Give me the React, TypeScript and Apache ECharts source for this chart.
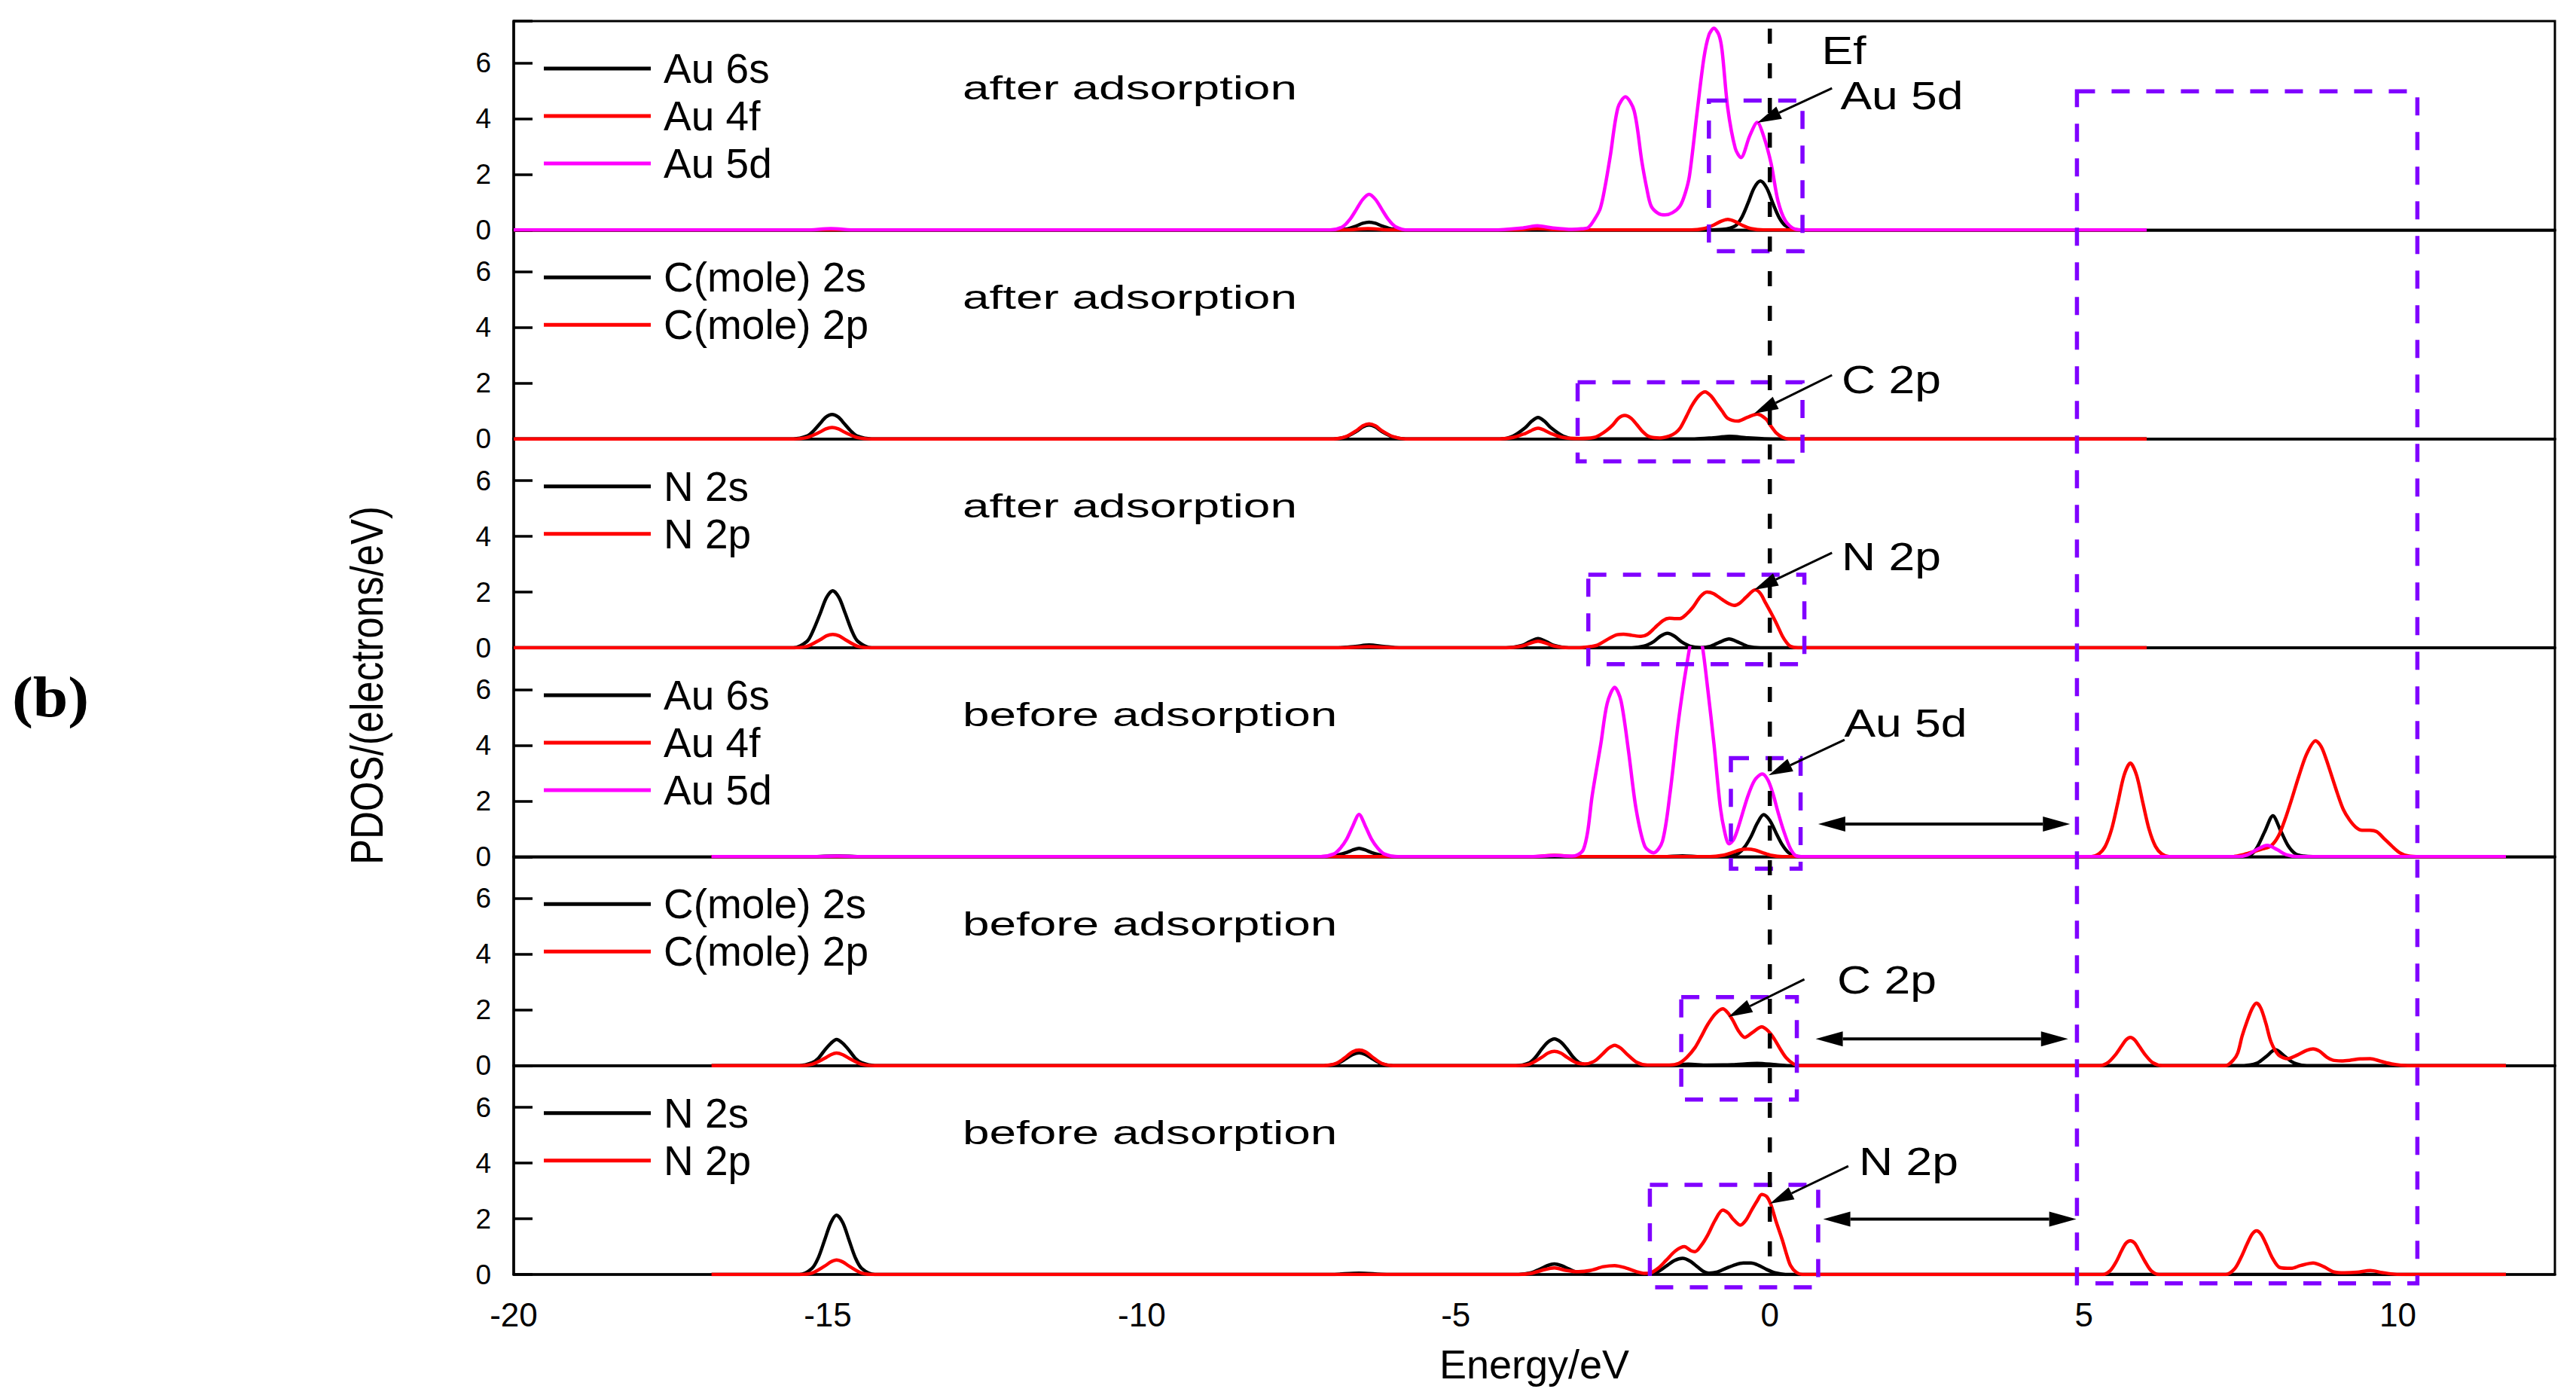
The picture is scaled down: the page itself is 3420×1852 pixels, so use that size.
import React, { useEffect, useRef } from "react";
import * as echarts from "echarts";

type Pt = [number, number];

// ---------------- DATA (energy in eV, PDOS in electrons/eV) ----------------
// Panel 1: Au, after adsorption
const au6sAfter: Pt[] = [[-20,0],[-6.95,0],[-6.75,0.03],[-6.58,0.15],[-6.48,0.24],[-6.38,0.28],[-6.28,0.24],[-6.18,0.15],[-6.0,0.03],[-5.8,0],[-4.1,0],[-3.7,0.03],[-3.3,0],[-1.0,0],[-0.75,0.02],[-0.55,0.15],[-0.45,0.44],[-0.35,0.95],[-0.25,1.51],[-0.15,1.76],[-0.05,1.51],[0.05,0.95],[0.15,0.44],[0.25,0.15],[0.4,0.02],[0.55,0],[6,0]];
const au4fAfter: Pt[] = [[-20,0],[-6.8,0],[-6.4,0.05],[-6.0,0],[-4.1,0],[-3.7,0.05],[-3.3,0],[-1.25,0],[-1.05,0.05],[-0.9,0.17],[-0.78,0.31],[-0.67,0.38],[-0.56,0.31],[-0.44,0.17],[-0.3,0.05],[-0.1,0],[6,0]];
const au5dAfter: Pt[] = [[-20,0],[-15.35,0],[-14.95,0.05],[-14.55,0],[-7.0,0],[-6.8,0.12],[-6.68,0.4],[-6.58,0.75],[-6.48,1.1],[-6.38,1.28],[-6.28,1.1],[-6.18,0.75],[-6.08,0.4],[-5.96,0.12],[-5.75,0],[-4.4,0],[-3.95,0.07],[-3.7,0.15],[-3.45,0.07],[-3.15,0.02],[-3.0,0.04],[-2.89,0.09],[-2.8,0.35],[-2.7,0.77],[-2.62,1.6],[-2.54,2.66],[-2.42,4.38],[-2.3,4.78],[-2.16,4.28],[-2.04,2.49],[-1.96,1.5],[-1.89,0.86],[-1.78,0.6],[-1.67,0.54],[-1.55,0.62],[-1.43,0.86],[-1.35,1.3],[-1.28,1.94],[-1.16,4.19],[-1.05,6.17],[-0.97,7.0],[-0.89,7.24],[-0.81,7.0],[-0.76,6.44],[-0.67,4.38],[-0.55,2.93],[-0.46,2.6],[-0.32,3.38],[-0.2,3.86],[-0.1,3.38],[0.02,2.39],[0.13,1.04],[0.25,0.32],[0.4,0.03],[0.55,0],[6,0]];

// Panel 2: C(mole), after adsorption
const c2sAfter: Pt[] = [[-20,0],[-15.55,0],[-15.33,0.1],[-15.23,0.28],[-15.13,0.53],[-15.03,0.78],[-14.93,0.88],[-14.83,0.78],[-14.73,0.53],[-14.63,0.28],[-14.53,0.1],[-14.3,0],[-6.95,0],[-6.75,0.07],[-6.58,0.27],[-6.48,0.43],[-6.38,0.5],[-6.28,0.43],[-6.18,0.27],[-6.0,0.07],[-5.8,0],[-4.3,0],[-4.09,0.1],[-3.89,0.41],[-3.79,0.64],[-3.69,0.77],[-3.59,0.64],[-3.49,0.41],[-3.29,0.1],[-3.1,0],[-1.2,0],[-0.9,0.04],[-0.64,0.09],[-0.35,0.04],[0.05,0],[6,0]];
const c2pAfter: Pt[] = [[-20,0],[-15.55,0],[-15.33,0.05],[-15.13,0.24],[-15.03,0.36],[-14.93,0.41],[-14.83,0.36],[-14.73,0.24],[-14.53,0.05],[-14.3,0],[-6.95,0],[-6.75,0.08],[-6.58,0.3],[-6.48,0.47],[-6.38,0.54],[-6.28,0.47],[-6.18,0.3],[-6.0,0.08],[-5.8,0],[-4.3,0],[-4.09,0.05],[-3.89,0.2],[-3.69,0.38],[-3.49,0.2],[-3.29,0.05],[-3.04,0.01],[-2.8,0.05],[-2.7,0.15],[-2.6,0.3],[-2.5,0.5],[-2.41,0.74],[-2.31,0.84],[-2.21,0.74],[-2.12,0.52],[-2.02,0.25],[-1.92,0.08],[-1.75,0.03],[-1.6,0.1],[-1.5,0.22],[-1.43,0.38],[-1.33,0.8],[-1.24,1.2],[-1.13,1.55],[-1.03,1.69],[-0.94,1.55],[-0.86,1.31],[-0.76,1.0],[-0.67,0.74],[-0.51,0.64],[-0.36,0.77],[-0.2,0.89],[-0.06,0.71],[0.02,0.45],[0.1,0.22],[0.2,0.06],[0.3,0],[6,0]];

// Panel 3: N, after adsorption
const n2sAfter: Pt[] = [[-20,0],[-15.55,0],[-15.33,0.23],[-15.23,0.63],[-15.12,1.23],[-15.02,1.8],[-14.92,2.05],[-14.82,1.8],[-14.72,1.23],[-14.62,0.63],[-14.52,0.23],[-14.3,0],[-6.9,0],[-6.6,0.05],[-6.38,0.1],[-6.15,0.05],[-5.9,0],[-4.2,0],[-3.95,0.08],[-3.82,0.22],[-3.69,0.33],[-3.56,0.22],[-3.43,0.08],[-3.2,0],[-2.2,0],[-2.0,0.06],[-1.85,0.22],[-1.74,0.42],[-1.63,0.52],[-1.52,0.42],[-1.41,0.22],[-1.27,0.06],[-1.1,0.01],[-0.95,0.05],[-0.8,0.2],[-0.65,0.32],[-0.5,0.2],[-0.35,0.05],[-0.15,0],[6,0]];
const n2pAfter: Pt[] = [[-20,0],[-15.55,0],[-15.33,0.05],[-15.12,0.29],[-15.02,0.43],[-14.92,0.48],[-14.82,0.43],[-14.72,0.29],[-14.52,0.05],[-14.3,0],[-6.8,0],[-6.38,0.04],[-5.95,0],[-4.2,0],[-3.95,0.06],[-3.82,0.16],[-3.69,0.24],[-3.56,0.16],[-3.43,0.06],[-3.2,0],[-2.99,0.01],[-2.85,0.05],[-2.75,0.09],[-2.54,0.36],[-2.43,0.47],[-2.33,0.49],[-2.2,0.45],[-2.05,0.41],[-1.95,0.48],[-1.83,0.72],[-1.7,0.98],[-1.6,1.06],[-1.5,1.05],[-1.43,1.05],[-1.33,1.2],[-1.23,1.44],[-1.1,1.85],[-1.0,2.0],[-0.9,1.95],[-0.75,1.72],[-0.65,1.58],[-0.57,1.52],[-0.48,1.6],[-0.38,1.81],[-0.23,2.08],[-0.15,1.95],[-0.07,1.62],[0.02,1.25],[0.1,0.9],[0.2,0.42],[0.27,0.18],[0.33,0.05],[0.45,0],[6,0]];

// Panel 4: Au, before adsorption
const au6sBefore: Pt[] = [[-16.85,0],[-15.25,0],[-14.85,0.03],[-14.45,0],[-7.15,0],[-6.92,0.04],[-6.74,0.15],[-6.64,0.24],[-6.54,0.3],[-6.44,0.24],[-6.34,0.15],[-6.16,0.04],[-5.95,0],[-1.7,0],[-1.39,0.03],[-1.1,0],[-0.75,0],[-0.6,0.04],[-0.5,0.12],[-0.4,0.35],[-0.3,0.72],[-0.2,1.2],[-0.1,1.51],[0.0,1.3],[0.1,0.85],[0.2,0.42],[0.3,0.14],[0.4,0.03],[0.5,0],[7.5,0],[7.65,0.06],[7.75,0.3],[7.88,0.9],[8.01,1.47],[8.13,0.95],[8.25,0.4],[8.37,0.1],[8.5,0.02],[8.65,0],[11.72,0]];
const au4fBefore: Pt[] = [[-16.85,0],[-3.8,0],[-3.43,0.05],[-3.05,0],[-0.95,0],[-0.75,0.05],[-0.6,0.15],[-0.48,0.24],[-0.36,0.27],[-0.24,0.24],[-0.12,0.15],[0.02,0.05],[0.2,0],[5.12,0],[5.24,0.1],[5.34,0.37],[5.44,0.97],[5.54,1.93],[5.64,2.92],[5.74,3.36],[5.84,2.92],[5.94,1.93],[6.04,0.97],[6.14,0.37],[6.24,0.1],[6.36,0],[7.39,0.01],[7.55,0.08],[7.72,0.19],[7.85,0.28],[7.98,0.39],[8.1,0.75],[8.2,1.32],[8.3,2.0],[8.42,2.87],[8.55,3.7],[8.69,4.16],[8.78,3.95],[8.86,3.49],[9.04,2.25],[9.13,1.7],[9.23,1.32],[9.33,1.06],[9.43,0.95],[9.55,0.95],[9.66,0.9],[9.78,0.65],[9.9,0.39],[10.03,0.14],[10.16,0.03],[10.35,0],[11.72,0]];
const au5dBefore: Pt[] = [[-16.85,0],[-15.25,0],[-14.85,0.02],[-14.45,0],[-7.15,0],[-6.94,0.1],[-6.84,0.3],[-6.74,0.62],[-6.64,1.1],[-6.54,1.52],[-6.44,1.1],[-6.34,0.62],[-6.24,0.3],[-6.14,0.1],[-5.92,0],[-3.8,0],[-3.43,0.04],[-3.15,0.02],[-3.05,0.08],[-2.97,0.25],[-2.9,0.9],[-2.83,2.17],[-2.69,4.06],[-2.59,5.5],[-2.47,6.08],[-2.37,5.6],[-2.25,3.79],[-2.13,1.72],[-1.99,0.37],[-1.85,0.14],[-1.71,0.55],[-1.59,2.26],[-1.47,4.6],[-1.37,6.23],[-1.27,7.6],[-1.18,8.8],[-1.07,7.5],[-0.99,6.05],[-0.89,4.06],[-0.79,1.81],[-0.72,0.9],[-0.65,0.46],[-0.58,0.6],[-0.51,1.0],[-0.35,2.17],[-0.24,2.75],[-0.12,2.97],[-0.03,2.75],[0.05,2.26],[0.13,1.6],[0.21,1.0],[0.33,0.28],[0.43,0.02],[0.55,0],[7.45,0],[7.6,0.06],[7.75,0.25],[7.92,0.41],[8.08,0.25],[8.22,0.07],[8.4,0],[11.72,0]];

// Panel 5: C(mole), before adsorption
const c2sBefore: Pt[] = [[-16.85,0],[-15.45,0],[-15.25,0.1],[-15.15,0.26],[-15.05,0.55],[-14.95,0.8],[-14.86,0.94],[-14.76,0.8],[-14.66,0.55],[-14.56,0.26],[-14.46,0.1],[-14.25,0],[-7.1,0],[-6.9,0.06],[-6.74,0.26],[-6.64,0.4],[-6.54,0.46],[-6.44,0.4],[-6.34,0.26],[-6.18,0.06],[-6.0,0],[-4.05,0],[-3.83,0.1],[-3.73,0.3],[-3.63,0.6],[-3.53,0.85],[-3.43,0.96],[-3.33,0.85],[-3.23,0.6],[-3.13,0.3],[-3.03,0.1],[-2.8,0],[-1.6,0],[-1.3,0.05],[-1.0,0.02],[-0.6,0.03],[-0.2,0.08],[0.1,0.03],[0.3,0],[7.55,0],[7.75,0.08],[7.9,0.32],[8.05,0.57],[8.2,0.33],[8.35,0.09],[8.55,0],[11.72,0]];
const c2pBefore: Pt[] = [[-16.85,0],[-15.45,0],[-15.25,0.05],[-15.05,0.26],[-14.95,0.39],[-14.86,0.45],[-14.76,0.39],[-14.66,0.26],[-14.46,0.05],[-14.25,0],[-7.1,0],[-6.9,0.08],[-6.74,0.33],[-6.64,0.5],[-6.54,0.56],[-6.44,0.5],[-6.34,0.33],[-6.18,0.08],[-6.0,0],[-4.05,0],[-3.83,0.05],[-3.63,0.3],[-3.53,0.45],[-3.43,0.51],[-3.33,0.45],[-3.23,0.3],[-3.08,0.1],[-2.95,0.06],[-2.8,0.15],[-2.67,0.4],[-2.57,0.62],[-2.47,0.73],[-2.37,0.62],[-2.27,0.4],[-2.12,0.12],[-1.95,0.02],[-1.6,0.02],[-1.45,0.08],[-1.32,0.3],[-1.19,0.65],[-1.09,1.05],[-0.99,1.47],[-0.87,1.85],[-0.75,2.04],[-0.67,1.9],[-0.59,1.63],[-0.5,1.25],[-0.4,1.01],[-0.27,1.2],[-0.13,1.39],[-0.03,1.25],[0.07,0.96],[0.17,0.58],[0.26,0.28],[0.37,0.07],[0.47,0],[5.25,0],[5.38,0.1],[5.5,0.38],[5.6,0.7],[5.67,0.92],[5.74,1.01],[5.81,0.92],[5.88,0.7],[5.98,0.38],[6.1,0.1],[6.25,0],[7.26,0],[7.38,0.2],[7.45,0.45],[7.52,1.06],[7.6,1.6],[7.68,2.05],[7.75,2.24],[7.82,2.05],[7.9,1.5],[7.98,0.85],[8.1,0.38],[8.25,0.25],[8.4,0.38],[8.55,0.55],[8.65,0.6],[8.75,0.52],[8.87,0.3],[8.97,0.19],[9.1,0.17],[9.23,0.19],[9.4,0.24],[9.56,0.25],[9.72,0.16],[9.9,0.06],[10.16,0],[11.72,0]];

// Panel 6: N, before adsorption
const n2sBefore: Pt[] = [[-16.85,0],[-15.45,0],[-15.25,0.22],[-15.15,0.6],[-15.05,1.23],[-14.95,1.86],[-14.86,2.13],[-14.76,1.86],[-14.66,1.23],[-14.56,0.6],[-14.46,0.22],[-14.25,0],[-7.0,0],[-6.54,0.05],[-6.1,0],[-4.0,0],[-3.8,0.06],[-3.65,0.2],[-3.54,0.32],[-3.43,0.38],[-3.32,0.32],[-3.2,0.2],[-3.05,0.06],[-2.85,0],[-2.0,0],[-1.8,0.08],[-1.65,0.3],[-1.52,0.5],[-1.39,0.58],[-1.27,0.48],[-1.15,0.27],[-1.05,0.1],[-0.97,0.05],[-0.85,0.08],[-0.7,0.22],[-0.55,0.35],[-0.42,0.41],[-0.3,0.41],[-0.18,0.33],[-0.05,0.18],[0.08,0.06],[0.25,0],[11.72,0]];
const n2pBefore: Pt[] = [[-16.85,0],[-15.45,0],[-15.25,0.05],[-15.05,0.3],[-14.95,0.45],[-14.86,0.52],[-14.76,0.45],[-14.66,0.3],[-14.46,0.05],[-14.25,0],[-4.0,0],[-3.8,0.04],[-3.63,0.15],[-3.43,0.24],[-3.25,0.15],[-3.05,0.1],[-2.85,0.15],[-2.65,0.28],[-2.47,0.32],[-2.3,0.24],[-2.12,0.1],[-2.0,0.04],[-1.91,0.05],[-1.78,0.22],[-1.65,0.51],[-1.5,0.85],[-1.36,1.0],[-1.26,0.86],[-1.19,0.82],[-1.09,1.05],[-0.99,1.41],[-0.87,1.95],[-0.75,2.31],[-0.66,2.2],[-0.59,2.0],[-0.47,1.77],[-0.38,1.95],[-0.29,2.31],[-0.2,2.65],[-0.13,2.87],[-0.05,2.8],[0.02,2.49],[0.1,1.9],[0.2,1.23],[0.27,0.7],[0.33,0.32],[0.42,0.08],[0.52,0],[5.3,0],[5.42,0.14],[5.52,0.48],[5.6,0.85],[5.67,1.12],[5.74,1.21],[5.81,1.12],[5.88,0.85],[5.97,0.48],[6.07,0.14],[6.2,0],[7.26,0],[7.4,0.2],[7.5,0.6],[7.6,1.1],[7.68,1.45],[7.75,1.57],[7.82,1.45],[7.9,1.1],[8.0,0.6],[8.12,0.25],[8.3,0.22],[8.45,0.32],[8.65,0.41],[8.82,0.28],[8.97,0.1],[9.15,0.06],[9.35,0.08],[9.56,0.14],[9.75,0.07],[9.95,0.01],[10.16,0],[11.72,0]];

const panelTitles = ["after adsorption", "after adsorption", "after adsorption", "before adsorption", "before adsorption", "before adsorption"];

// Annotation geometry in data units: [panel, x1, yTop, x2, yBottom]
const zoomBoxes: number[][] = [
  [0, -0.97, 4.65, 0.52, -0.76],
  [1, -3.06, 2.03, 0.52, -0.81],
  [2, -2.89, 2.62, 0.55, -0.59],
  [3, -0.62, 3.54, 0.49, -0.43],
  [4, -1.41, 2.46, 0.43, -1.22],
  [5, -1.91, 3.22, 0.77, -0.46],
];
// band box: x1, x2, top (panel 0), bottom (panel 5)
const bandBox = { x1: 4.89, x2: 10.31, top: 4.98, bottom: -0.32 };
// Fermi level line: energy, top value in panel 0, bottom value in panel 5
const fermi = { x: 0, top: 7.23, bottom: 0 };
// pointer arrows: [panel, xFrom, yFrom, xTo, yTo]
const pointerArrows: number[][] = [
  [0, 0.99, 5.09, -0.2, 3.85],
  [1, 0.99, 2.29, -0.25, 0.91],
  [2, 0.99, 3.41, -0.25, 2.08],
  [3, 1.19, 4.2, -0.02, 2.92],
  [4, 0.55, 3.1, -0.66, 1.75],
  [5, 1.25, 3.89, 0.0, 2.54],
];
// band-gap arrows: [panel, x1, x2, y]
const gapArrows: number[][] = [
  [3, 0.77, 4.78, 1.17],
  [4, 0.73, 4.75, 0.96],
  [5, 0.85, 4.88, 1.99],
];

// ---------------- STYLE / LAYOUT ----------------
const BLACK = "#000000";
const RED = "#ff0000";
const MAGENTA = "#ff00ff";
const PURPLE = "#8000ff";
const FONT = "Liberation Sans";

const X_MIN = -20, X_MAX = 12.5, X_INTERVAL = 5;
const Y_MIN = 0, Y_MAX = 7.5, Y_INTERVAL = 2;

const GRID_LEFT = 682;
const GRID_WIDTH = 2710;
const GRID_TOP = 28;
const PANEL_H = 1664 / 6;

const panels = [
  { title: panelTitles[0], series: [["Au 6s", BLACK, au6sAfter], ["Au 4f", RED, au4fAfter], ["Au 5d", MAGENTA, au5dAfter]] },
  { title: panelTitles[1], series: [["C(mole) 2s", BLACK, c2sAfter], ["C(mole) 2p", RED, c2pAfter]] },
  { title: panelTitles[2], series: [["N 2s", BLACK, n2sAfter], ["N 2p", RED, n2pAfter]] },
  { title: panelTitles[3], series: [["Au 6s", BLACK, au6sBefore], ["Au 4f", RED, au4fBefore], ["Au 5d", MAGENTA, au5dBefore]] },
  { title: panelTitles[4], series: [["C(mole) 2s", BLACK, c2sBefore], ["C(mole) 2p", RED, c2pBefore]] },
  { title: panelTitles[5], series: [["N 2s", BLACK, n2sBefore], ["N 2p", RED, n2pBefore]] },
] as { title: string; series: [string, string, Pt[]][] }[];

const N = panels.length;
const toGlobal = (panel: number, v: number) => v + Y_MAX * (N - 1 - panel);

// free texts (pixel layout)
const annotationLabels: [string, number, number][] = [
  ["Ef", 2448, 67],
  ["Au 5d", 2525, 127],
  ["C 2p", 2511, 504],
  ["N 2p", 2511, 739],
  ["Au 5d", 2530, 960],
  ["C 2p", 2505, 1301],
  ["N 2p", 2534, 1542],
];

function arrowHead(tip: number[], from: number[], len: number, half: number) {
  const dx = tip[0] - from[0];
  const dy = tip[1] - from[1];
  const d = Math.sqrt(dx * dx + dy * dy) || 1;
  const ux = dx / d, uy = dy / d;
  const bx = tip[0] - ux * len, by = tip[1] - uy * len;
  const nx = -uy, ny = ux;
  return {
    base: [bx, by],
    points: [[tip[0], tip[1]], [bx + nx * half, by + ny * half], [bx - nx * half, by - ny * half]],
  };
}

function buildOption() {
  const grids: any[] = panels.map((_, i) => ({
    left: GRID_LEFT, width: GRID_WIDTH, top: GRID_TOP + i * PANEL_H, height: PANEL_H,
    show: true, borderColor: BLACK, borderWidth: 3, backgroundColor: "transparent",
    containLabel: false, outerBoundsMode: "none",
  }));
  grids.push({ left: GRID_LEFT, width: GRID_WIDTH, top: GRID_TOP, height: PANEL_H * N, show: false, containLabel: false, outerBoundsMode: "none" });

  const xAxes: any[] = panels.map((_, i) => ({
    type: "value", gridIndex: i, min: X_MIN, max: X_MAX, interval: X_INTERVAL,
    axisLine: { show: true, onZero: false, lineStyle: { color: BLACK, width: 3.5 } },
    axisTick: { show: false },
    splitLine: { show: false },
    axisLabel: {
      show: i === N - 1, fontSize: 44, color: BLACK, fontFamily: FONT, margin: 31,
      formatter: (v: number) => (Math.abs(v % X_INTERVAL) < 1e-9 ? String(v) : ""),
    },
    name: i === N - 1 ? "Energy/eV" : "",
    nameLocation: "middle", nameGap: 92,
    nameTextStyle: { fontSize: 54, color: BLACK, fontFamily: FONT },
  }));
  xAxes.push({ type: "value", gridIndex: N, min: X_MIN, max: X_MAX, show: false });

  const yAxes: any[] = panels.map((_, i) => ({
    type: "value", gridIndex: i, min: Y_MIN, max: Y_MAX, interval: Y_INTERVAL,
    axisLine: { show: true, onZero: false, lineStyle: { color: BLACK, width: 3.5 } },
    axisTick: { show: true, inside: true, length: 25, lineStyle: { color: BLACK, width: 3.5 } },
    splitLine: { show: false },
    axisLabel: {
      fontSize: 37, color: BLACK, fontFamily: FONT, margin: 30,
      formatter: (v: number) => (Math.abs(v % Y_INTERVAL) < 1e-9 ? String(v) : ""),
    },
  }));
  yAxes.push({ type: "value", gridIndex: N, min: 0, max: Y_MAX * N, show: false });

  const lineSeries: any[] = [];
  panels.forEach((p, i) => {
    p.series.forEach(([name, color, data]) => {
      lineSeries.push({
        type: "line", name, xAxisIndex: i, yAxisIndex: i, data,
        smooth: 0.3, symbol: "none", showSymbol: false, clip: true, silent: true,
        color, itemStyle: { color }, lineStyle: { color, width: 4.5 }, z: 3,
      });
    });
  });

  const boxData = zoomBoxes.map(([p, x1, yt, x2, yb]) => [x1, toGlobal(p, yt), x2, toGlobal(p, yb)]);
  boxData.push([bandBox.x1, toGlobal(0, bandBox.top), bandBox.x2, toGlobal(N - 1, bandBox.bottom)]);

  const boxSeries = {
    type: "custom", name: "boxes", xAxisIndex: N, yAxisIndex: N, silent: true, z: 10,
    encode: { x: [0, 2], y: [1, 3] },
    data: boxData,
    renderItem: (params: any, api: any) => {
      const a = api.coord([api.value(0), api.value(1)]);
      const b = api.coord([api.value(2), api.value(3)]);
      return {
        type: "rect",
        shape: { x: a[0], y: a[1], width: b[0] - a[0], height: b[1] - a[1] },
        style: { fill: "none", stroke: PURPLE, lineWidth: 5.5, lineDash: [24, 22] },
      };
    },
  };

  const fermiSeries = {
    type: "custom", name: "Ef", xAxisIndex: N, yAxisIndex: N, silent: true, z: 11,
    encode: { x: [0, 2], y: [1, 3] },
    data: [[fermi.x, toGlobal(0, fermi.top), fermi.x, toGlobal(N - 1, fermi.bottom)]],
    renderItem: (params: any, api: any) => {
      const a = api.coord([api.value(0), api.value(1)]);
      const b = api.coord([api.value(2), api.value(3)]);
      return {
        type: "line",
        shape: { x1: a[0], y1: a[1], x2: b[0], y2: b[1] },
        style: { stroke: BLACK, lineWidth: 5.5, lineDash: [20, 26] },
      };
    },
  };

  const pointerSeries = {
    type: "custom", name: "pointers", xAxisIndex: N, yAxisIndex: N, silent: true, z: 12,
    encode: { x: [0, 2], y: [1, 3] },
    data: pointerArrows.map(([p, x1, y1, x2, y2]) => [x1, toGlobal(p, y1), x2, toGlobal(p, y2)]),
    renderItem: (params: any, api: any) => {
      const a = api.coord([api.value(0), api.value(1)]);
      const b = api.coord([api.value(2), api.value(3)]);
      const h = arrowHead(b, a, 32, 9);
      return {
        type: "group",
        children: [
          { type: "line", shape: { x1: a[0], y1: a[1], x2: h.base[0], y2: h.base[1] }, style: { stroke: BLACK, lineWidth: 3 } },
          { type: "polygon", shape: { points: h.points }, style: { fill: BLACK } },
        ],
      };
    },
  };

  const gapSeries = {
    type: "custom", name: "gaps", xAxisIndex: N, yAxisIndex: N, silent: true, z: 12,
    encode: { x: [0, 1], y: [2, 2] },
    data: gapArrows.map(([p, x1, x2, y]) => [x1, x2, toGlobal(p, y)]),
    renderItem: (params: any, api: any) => {
      const a = api.coord([api.value(0), api.value(2)]);
      const b = api.coord([api.value(1), api.value(2)]);
      const h1 = arrowHead(b, a, 36, 10);
      const h2 = arrowHead(a, b, 36, 10);
      return {
        type: "group",
        children: [
          { type: "line", shape: { x1: h2.base[0], y1: h2.base[1], x2: h1.base[0], y2: h1.base[1] }, style: { stroke: BLACK, lineWidth: 4 } },
          { type: "polygon", shape: { points: h1.points }, style: { fill: BLACK } },
          { type: "polygon", shape: { points: h2.points }, style: { fill: BLACK } },
        ],
      };
    },
  };

  const legends = panels.map((p, i) => ({
    data: p.series.map((s) => s[0]),
    orient: "vertical", left: 722, top: GRID_TOP + i * PANEL_H + 35.5, padding: 0, itemGap: 8,
    itemWidth: 142, itemHeight: 5, icon: "rect", selectedMode: false,
    textStyle: { fontSize: 55, lineHeight: 55, color: BLACK, fontFamily: FONT, padding: [0, 0, 0, 12] },
  }));

  const textEl = (text: string, x: number, y: number, size: number, sx: number, align: string) => ({
    type: "text", x, y, scaleX: sx, silent: true, z: 20,
    style: {
      text, fontSize: size, fontFamily: FONT, fill: BLACK,
      align, textAlign: align, verticalAlign: "middle", textVerticalAlign: "middle",
    },
  });

  const graphics: any[] = [];
  panels.forEach((p, i) => {
    graphics.push(textEl(p.title, 1278, GRID_TOP + i * PANEL_H + 89, 45, 1.42, "left"));
  });
  annotationLabels.forEach(([t, x, y]) => graphics.push(textEl(t, x, y, 52, 1.2, "center")));
  graphics.push({
    type: "text", x: 16, y: 925, scaleX: 1.1, silent: true, z: 20,
    style: { text: "(b)", fontSize: 76, fontWeight: "bold", fontFamily: "Liberation Serif", fill: BLACK, align: "left", textAlign: "left", verticalAlign: "middle", textVerticalAlign: "middle" },
  });
  graphics.push({
    type: "text", x: 487, y: 910, rotation: Math.PI / 2, scaleY: 1.2, silent: true, z: 20,
    style: { text: "PDOS/(electrons/eV)", fontSize: 51, fontFamily: FONT, fill: BLACK, align: "center", textAlign: "center", verticalAlign: "middle", textVerticalAlign: "middle" },
  });

  return {
    animation: false,
    backgroundColor: "#ffffff",
    grid: grids,
    xAxis: xAxes,
    yAxis: yAxes,
    legend: legends,
    series: [...lineSeries, boxSeries, fermiSeries, pointerSeries, gapSeries],
    graphic: { elements: graphics },
  };
}

export default function App() {
  const ref = useRef<HTMLDivElement>(null);
  useEffect(() => {
    if (!ref.current) return;
    const chart = echarts.init(ref.current, null, { renderer: "svg" });
    chart.setOption(buildOption() as any);
    return () => chart.dispose();
  }, []);
  return (
    <div
      ref={ref}
      style={{ position: "absolute", left: 0, top: 0, width: 3420, height: 1852, background: "#ffffff" }}
    />
  );
}
